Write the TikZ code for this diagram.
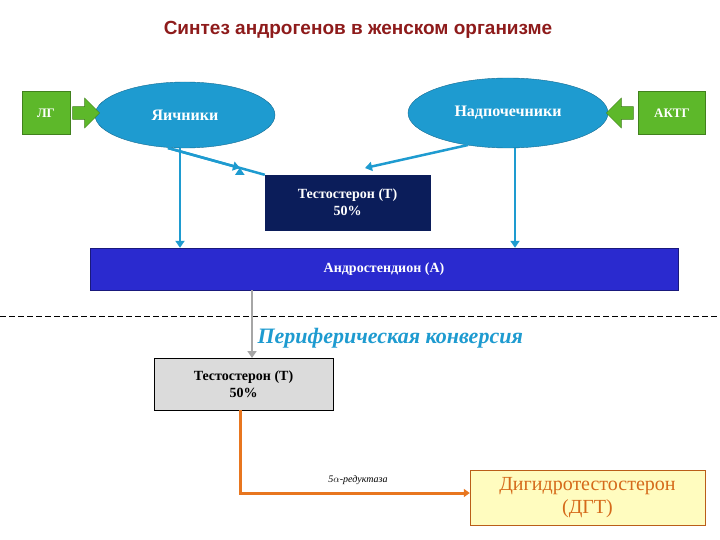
\documentclass[tikz,border=0pt]{standalone}
\usepackage{fontspec}
\setmainfont{Liberation Serif}
\newfontfamily\titlefont{Liberation Sans}
\usetikzlibrary{shapes.geometric,arrows.meta,shapes.arrows}
\definecolor{cyanb}{HTML}{1E9BD0}
\definecolor{grn}{HTML}{5DB82A}
\definecolor{navy}{HTML}{0B1D5A}
\definecolor{bar}{HTML}{2A2ACF}
\definecolor{titred}{HTML}{8E1B1B}
\definecolor{orng}{HTML}{E8761F}
\definecolor{dhttxt}{HTML}{D56A1A}
\tikzset{
 oval/.style={ellipse,fill=cyanb,draw=cyanb!70!black,text=white,font=\fontsize{16}{18}\selectfont\bfseries},
 gbox/.style={rectangle,fill=grn,draw=grn!70!black,text=white,font=\fontsize{13}{15}\selectfont\bfseries,minimum height=43pt},
 garrow/.style={single arrow,fill=grn,draw=grn!70!black,minimum height=27pt,minimum width=30pt,single arrow head extend=3pt,inner sep=2pt},
 bl/.style={draw=cyanb,line width=2.5pt,-{Triangle[length=7pt,width=9pt]}},
 btxt/.style={font=\fontsize{14}{17}\selectfont\bfseries,align=center}
}
\begin{document}
\begin{tikzpicture}[x=1pt,y=-1pt]
\useasboundingbox[fill=white] (0,0) rectangle (720,540);
\node[font=\titlefont\fontsize{19}{22}\selectfont\bfseries,text=titred] (title) at (358,30) {Синтез андрогенов в женском организме};
\node[gbox,minimum width=48pt] (lg) at (46,113) {ЛГ};
\node[gbox,minimum width=67pt] (aktg) at (672,113) {АКТГ};
\node[oval,minimum width=180pt,minimum height=66pt] (ya) at (185,115) {Яичники};
\node[oval,minimum width=200pt,minimum height=70pt] (nad) at (508,113) {Надпочечники};
\node[garrow] (ga1) at (83,113) {};
\node[garrow,shape border rotate=180] (ga2) at (623,113) {};
\node[btxt,fill=navy,draw=navy,text=white,minimum width=165pt,minimum height=55pt] (t1) at (347.5,202.5) {Тестостерон (Т)\\50\%};
\node[btxt,fill=bar,draw=bar!60!black,text=white,minimum width=588pt,minimum height=42pt] (andr) at (384,269) {Андростендион (А)};
\coordinate (ya1) at (180,148); \coordinate (nad1) at (515,148);
\draw[bl] (ya1) -- (ya1 |- andr.north);
\draw[bl] (nad1) -- (nad1 |- andr.north);
\draw[bl] (168,148) -- (t1.north west) ++(-25,-7);
\draw[bl] (168,148) -- (240,168);
\draw[bl] (468,145) -- (365,168);
\coordinate (dl) at (0,316); \coordinate (dr) at (720,316);
\draw[dashed,dash pattern=on 6pt off 3pt,thick] (dl) -- (dr);
\node[font=\fontsize{22}{26}\selectfont\bfseries\itshape,text=cyanb,anchor=west] (per) at (254,338) {Периферическая конверсия};
\node[btxt,fill=black!14,draw=black,minimum width=179pt,minimum height=52pt] (t2) at (243.5,384) {Тестостерон (Т)\\50\%};
\draw[draw=black!35,line width=2.5pt,-{Triangle[length=7pt,width=9pt]}] (252,290) -- (252,358);
\node[font=\fontsize{20}{23}\selectfont,text=dhttxt,fill=yellow!25,draw=orng!80!black,align=center,minimum width=235pt,minimum height=55pt] (dht) at (587.5,497.5) {Дигидротестостерон\\(ДГТ)};
\coordinate (c1) at (240,493);
\draw[orng,line width=3pt,-{Triangle[length=6pt,width=8pt]}] (t2.south -| c1) -- (c1) -- (c1 -| dht.west);
\node[font=\fontsize{10}{12}\selectfont\itshape] (red) at (358,480) {5$\alpha$-редуктаза};
\end{tikzpicture}
\end{document}
